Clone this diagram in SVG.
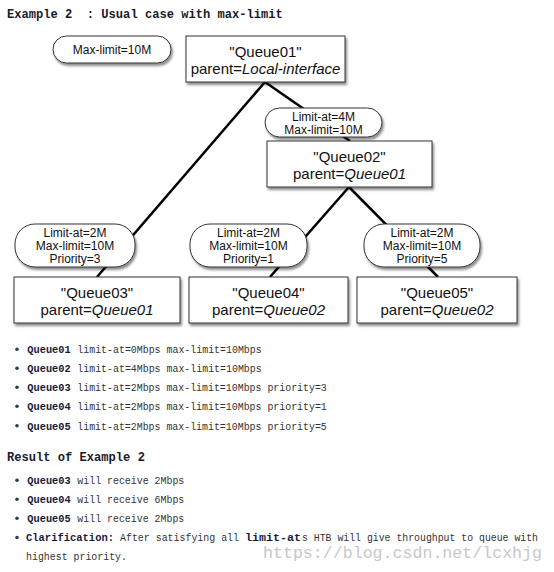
<svg xmlns="http://www.w3.org/2000/svg" width="554" height="572" viewBox="0 0 554 572">
<defs>
<filter id="sh" x="-10%" y="-15%" width="125%" height="145%">
<feDropShadow dx="1.5" dy="2.5" stdDeviation="1.2" flood-color="#000" flood-opacity="0.45"/>
</filter>
</defs>
<style>
.box{fill:#fff;stroke:#333;stroke-width:1;filter:url(#sh)}
.pill{fill:#fff;stroke:#333;stroke-width:1;filter:url(#sh)}
.conn line{stroke:#000;stroke-width:2.5}
.nt{font-family:"Liberation Sans",Arial,sans-serif;font-size:15px;fill:#111;text-anchor:middle}
.pt{font-family:"Liberation Sans",Arial,sans-serif;font-size:12px;fill:#111;text-anchor:middle}
.it{font-style:italic}
.hd{font-family:"Liberation Mono",monospace;font-weight:bold;font-size:12.1px;fill:#1a1a2a;white-space:pre}
.tx{font-family:"Liberation Mono",monospace;font-size:11px;fill:#333;white-space:pre}
.b{font-family:"Liberation Mono",monospace;font-weight:bold;font-size:11px;fill:#1a1a3a;white-space:pre}
.sm{font-size:10px}
.dot{fill:#2b3b5b}
.wm{font-family:"Liberation Mono",monospace;font-size:16.6px;fill:#c8c8c8}
</style>
<rect width="554" height="572" fill="#fff"/>
<text class="hd" x="7" y="18" xml:space="preserve">Example 2  : Usual case with max-limit</text>

<g id="connectors" class="conn">
<line x1="265" y1="82" x2="97" y2="277"/>
<line x1="265" y1="82" x2="350" y2="141"/>
<line x1="349" y1="187" x2="270" y2="277"/>
<line x1="349" y1="187" x2="438" y2="277"/>
</g>

<g id="maxlimit">
<rect class="pill" x="53" y="36" width="118" height="27" rx="13.5"/>
<text class="pt" x="112" y="54">Max-limit=10M</text>
</g>
<g id="queue01">
<rect class="box" x="186" y="36" width="159" height="46"/>
<text class="nt" x="265.5" y="56.5">&quot;Queue01&quot;</text>
<text class="nt" x="265.5" y="74">parent=<tspan class="it">Local-interface</tspan></text>
</g>
<g id="limit02">
<rect class="pill" x="265" y="108" width="117" height="29" rx="14.5"/>
<text class="pt" x="323.5" y="121">Limit-at=4M</text>
<text class="pt" x="323.5" y="134">Max-limit=10M</text>
</g>
<g id="queue02">
<rect class="box" x="267" y="141" width="165" height="46"/>
<text class="nt" x="349.5" y="161.5">&quot;Queue02&quot;</text>
<text class="nt" x="349.5" y="179">parent=<tspan class="it">Queue01</tspan></text>
</g>
<g id="limit03">
<rect class="pill" x="15" y="224" width="120" height="43" rx="20"/>
<text class="pt" x="75" y="237">Limit-at=2M</text>
<text class="pt" x="75" y="250">Max-limit=10M</text>
<text class="pt" x="75" y="263">Priority=3</text>
</g>
<g id="queue03">
<rect class="box" x="14" y="277" width="166" height="46"/>
<text class="nt" x="97" y="297.5">&quot;Queue03&quot;</text>
<text class="nt" x="97" y="315">parent=<tspan class="it">Queue01</tspan></text>
</g>
<g id="limit04">
<rect class="pill" x="190" y="224" width="117" height="43" rx="20"/>
<text class="pt" x="248.5" y="237">Limit-at=2M</text>
<text class="pt" x="248.5" y="250">Max-limit=10M</text>
<text class="pt" x="248.5" y="263">Priority=1</text>
</g>
<g id="queue04">
<rect class="box" x="189" y="277" width="159" height="46"/>
<text class="nt" x="268.5" y="297.5">&quot;Queue04&quot;</text>
<text class="nt" x="268.5" y="315">parent=<tspan class="it">Queue02</tspan></text>
</g>
<g id="limit05">
<rect class="pill" x="364" y="224" width="116" height="43" rx="20"/>
<text class="pt" x="422" y="237">Limit-at=2M</text>
<text class="pt" x="422" y="250">Max-limit=10M</text>
<text class="pt" x="422" y="263">Priority=5</text>
</g>
<g id="queue05">
<rect class="box" x="357" y="277" width="160" height="46"/>
<text class="nt" x="437" y="297.5">&quot;Queue05&quot;</text>
<text class="nt" x="437" y="315">parent=<tspan class="it">Queue02</tspan></text>
</g>

<g id="config-list">
<circle class="dot" cx="17" cy="349.3" r="1.8"/>
<text class="b" x="27.3" y="353" textLength="43.4" lengthAdjust="spacingAndGlyphs">Queue01</text>
<text class="tx" x="77.3" y="353" textLength="184.4" lengthAdjust="spacingAndGlyphs">limit-at=0Mbps max-limit=10Mbps</text>
<circle class="dot" cx="17" cy="368.3" r="1.8"/>
<text class="b" x="27.3" y="372" textLength="43.4" lengthAdjust="spacingAndGlyphs">Queue02</text>
<text class="tx" x="77.3" y="372" textLength="184.4" lengthAdjust="spacingAndGlyphs">limit-at=4Mbps max-limit=10Mbps</text>
<circle class="dot" cx="17" cy="387.3" r="1.8"/>
<text class="b" x="27.3" y="391" textLength="43.4" lengthAdjust="spacingAndGlyphs">Queue03</text>
<text class="tx" x="77.3" y="391" textLength="249.5" lengthAdjust="spacingAndGlyphs">limit-at=2Mbps max-limit=10Mbps priority=3</text>
<circle class="dot" cx="17" cy="406.3" r="1.8"/>
<text class="b" x="27.3" y="410" textLength="43.4" lengthAdjust="spacingAndGlyphs">Queue04</text>
<text class="tx" x="77.3" y="410" textLength="249.5" lengthAdjust="spacingAndGlyphs">limit-at=2Mbps max-limit=10Mbps priority=1</text>
<circle class="dot" cx="17" cy="425.8" r="1.8"/>
<text class="b" x="27.3" y="429.5" textLength="43.4" lengthAdjust="spacingAndGlyphs">Queue05</text>
<text class="tx" x="77.3" y="429.5" textLength="249.5" lengthAdjust="spacingAndGlyphs">limit-at=2Mbps max-limit=10Mbps priority=5</text>
</g>

<text class="hd" x="7" y="461">Result of Example 2</text>

<g id="result-list">
<circle class="dot" cx="17" cy="480.3" r="1.8"/>
<text class="b" x="27.3" y="484" textLength="43.4" lengthAdjust="spacingAndGlyphs">Queue03</text>
<text class="tx" x="77.3" y="484" textLength="107" lengthAdjust="spacingAndGlyphs">will receive 2Mbps</text>
<circle class="dot" cx="17" cy="499.3" r="1.8"/>
<text class="b" x="27.3" y="503" textLength="43.4" lengthAdjust="spacingAndGlyphs">Queue04</text>
<text class="tx" x="77.3" y="503" textLength="107" lengthAdjust="spacingAndGlyphs">will receive 6Mbps</text>
<circle class="dot" cx="17" cy="518.3" r="1.8"/>
<text class="b" x="27.3" y="522" textLength="43.4" lengthAdjust="spacingAndGlyphs">Queue05</text>
<text class="tx" x="77.3" y="522" textLength="107" lengthAdjust="spacingAndGlyphs">will receive 2Mbps</text>
<circle class="dot" cx="17" cy="537.5" r="1.8"/>
<text class="b sm" x="26" y="541" textLength="88" lengthAdjust="spacingAndGlyphs">Clarification:</text>
<text class="tx sm" x="120" y="541" textLength="119" lengthAdjust="spacingAndGlyphs">After satisfying all</text>
<text class="b sm" x="245" y="541" textLength="56" lengthAdjust="spacingAndGlyphs">limit-at</text>
<text class="tx sm" x="302" y="541" textLength="236" lengthAdjust="spacingAndGlyphs">s HTB will give throughput to queue with</text>
<text class="tx" x="26" y="559.5" textLength="101" lengthAdjust="spacingAndGlyphs">highest priority.</text>
</g>

<text class="wm" x="263" y="558" textLength="279" lengthAdjust="spacingAndGlyphs">https://blog.csdn.net/lcxhjg</text>
</svg>
